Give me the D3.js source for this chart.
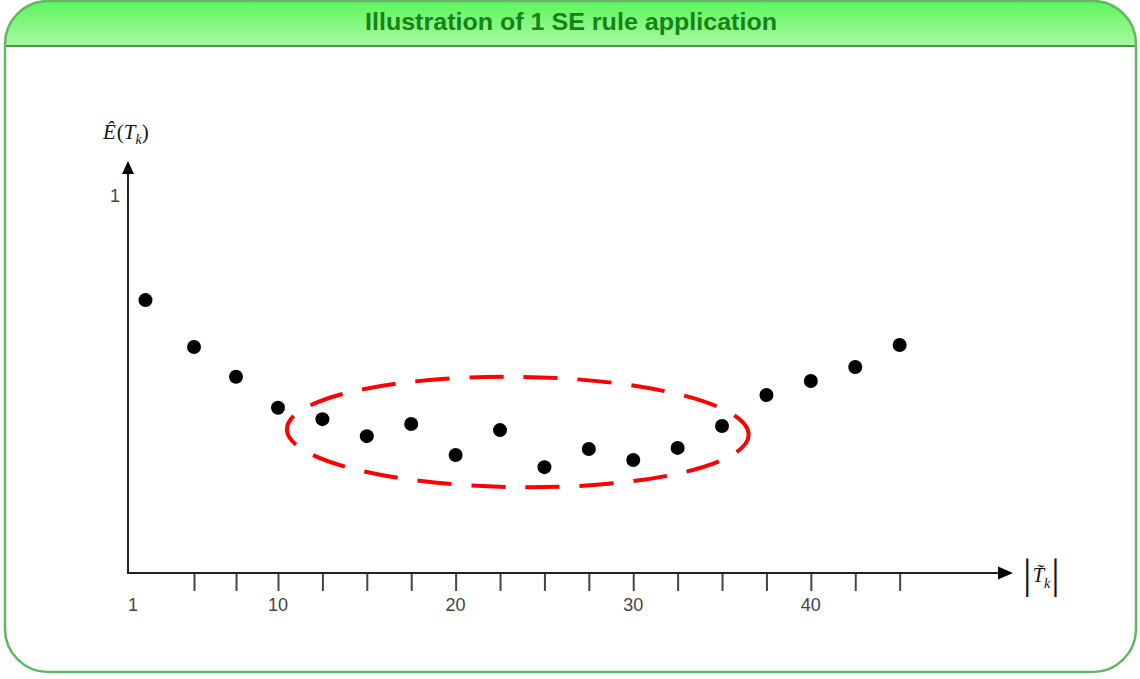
<!DOCTYPE html>
<html>
<head>
<meta charset="utf-8">
<script src="https://cdn.jsdelivr.net/npm/d3@7"></script>
<style>
  html, body { margin: 0; padding: 0; background: #fff; }
  svg { display: block; }
</style>
</head>
<body>
<div id="chart"></div>
<script>
// data
const title = "Illustration of 1 SE rule application";
const treeSizes = [2.5, 5, 7.5, 10, 12.5, 15, 17.5, 20, 22.5, 25, 27.5, 30, 32.5, 35, 37.5, 40, 42.5, 45];
const errors = [0.722, 0.598, 0.519, 0.437, 0.407, 0.362, 0.394, 0.312, 0.378, 0.280, 0.328, 0.299, 0.331, 0.389, 0.471, 0.508, 0.545, 0.603];
const tickValues = [5, 7.5, 10, 12.5, 15, 17.5, 20, 22.5, 25, 27.5, 30, 32.5, 35, 37.5, 40, 42.5, 45];
const tickLabels = [10, 20, 30, 40];
const yTickLabels = [1];
// the 1 SE region (data coords)
const region = { cx: 23.5, cy: 0.373, halfWidth: 13, halfHeight: 0.146 };

const W = 1140, H = 679;
const svg = d3.select("#chart").append("svg")
    .attr("width", W)
    .attr("height", H);

const defs = svg.append("defs");
const grad = defs.append("linearGradient")
    .attr("id", "titleGrad")
    .attr("x1", 0).attr("y1", 0).attr("x2", 0).attr("y2", 1);
grad.append("stop").attr("offset", "0%").attr("stop-color", "#5af55a");
grad.append("stop").attr("offset", "100%").attr("stop-color", "#a9f9a3");

defs.append("clipPath").attr("id", "frameClip")
  .append("rect")
    .attr("x", 5).attr("y", 1).attr("width", 1131).attr("height", 671)
    .attr("rx", 43).attr("ry", 43);

// frame + title bar
svg.append("rect")
    .attr("x", 5).attr("y", 1).attr("width", 1131).attr("height", 671)
    .attr("rx", 43).attr("ry", 43)
    .attr("fill", "#fff");

svg.append("rect")
    .attr("clip-path", "url(#frameClip)")
    .attr("x", 0).attr("y", 0).attr("width", W).attr("height", 46)
    .attr("fill", "url(#titleGrad)");

svg.append("line")
    .attr("x1", 5).attr("x2", 1136).attr("y1", 46).attr("y2", 46)
    .attr("stroke", "#3f9f3f").attr("stroke-width", 2);

svg.append("rect")
    .attr("x", 5).attr("y", 1).attr("width", 1131).attr("height", 671)
    .attr("rx", 43).attr("ry", 43)
    .attr("fill", "none")
    .attr("stroke", "#62b862").attr("stroke-width", 2.5);

svg.append("text")
    .attr("x", 571).attr("y", 30)
    .attr("text-anchor", "middle")
    .attr("font-family", "'Liberation Sans Narrow', 'Liberation Sans', Arial, sans-serif")
    .attr("font-weight", "bold")
    .attr("font-size", 23)
    .attr("fill", "#178317")
    .attr("textLength", 412)
    .attr("lengthAdjust", "spacingAndGlyphs")
    .text(title);

// scales (the original spacing is a little wider below 10)
const x = d3.scaleLinear().domain([1.6, 5, 10, 50.65]).range([128, 194, 278, 1000]);
const y = d3.scaleLinear().domain([0, 1]).range([573, 195]);

const g = svg.append("g");

// ticks
const xAxis = d3.axisBottom(x)
    .tickValues(tickValues)
    .tickSize(18)
    .tickFormat("");
const axG = g.append("g")
    .attr("transform", `translate(0,${y(0)})`)
    .call(xAxis);
axG.select(".domain").remove();
axG.selectAll(".tick line").attr("stroke", "#444").attr("stroke-width", 2);

// axis lines with arrows
const x0 = x.range()[0], y0 = y(0);
g.append("line")
    .attr("x1", x0).attr("y1", y0).attr("x2", 999).attr("y2", y0)
    .attr("stroke", "#222").attr("stroke-width", 2);
g.append("path")
    .attr("d", `M1013,${y0} L998,${y0 - 6.5} L998,${y0 + 6.5} Z`)
    .attr("fill", "#000");
g.append("line")
    .attr("x1", x0).attr("y1", y0 + 1).attr("x2", x0).attr("y2", 172)
    .attr("stroke", "#222").attr("stroke-width", 2);
g.append("path")
    .attr("d", `M${x0},161 L${x0 - 6},174 L${x0 + 6},174 Z`)
    .attr("fill", "#000");

// tick labels
const labelFont = "'Liberation Sans', Arial, sans-serif";
g.append("text")
    .attr("x", x0 + 5).attr("y", 611)
    .attr("text-anchor", "middle")
    .attr("font-family", labelFont).attr("font-size", 18).attr("fill", "#444")
    .text("1");
g.selectAll(".xlab")
    .data(tickLabels)
    .join("text")
    .attr("class", "xlab")
    .attr("x", d => x(d))
    .attr("y", 611)
    .attr("text-anchor", "middle")
    .attr("font-family", labelFont).attr("font-size", 18).attr("fill", "#444")
    .text(d => d);
g.selectAll(".ylab")
    .data(yTickLabels)
    .join("text")
    .attr("class", "ylab")
    .attr("x", 120)
    .attr("y", d => y(d) + 7)
    .attr("text-anchor", "end")
    .attr("font-family", labelFont).attr("font-size", 18).attr("fill", "#444")
    .text(d => d);

// axis titles
const mathFont = "'Liberation Serif', 'DejaVu Serif', serif";
const yt = g.append("text")
    .attr("x", 103).attr("y", 139)
    .attr("font-family", mathFont).attr("font-size", 21).attr("fill", "#111");
yt.append("tspan").attr("font-style", "italic").text("\u00CA");
yt.append("tspan").attr("dx", 1).text("(");
yt.append("tspan").attr("font-style", "italic").text("T");
yt.append("tspan").attr("font-style", "italic").attr("font-size", 14).attr("dy", 5).text("k");
yt.append("tspan").attr("dy", -5).text(")");

const xt = g.append("text")
    .attr("x", 1023).attr("y", 584)
    .attr("font-family", mathFont).attr("font-size", 21).attr("fill", "#111");
xt.append("tspan").attr("font-size", 42).attr("dy", 4).text("|");
xt.append("tspan").attr("font-style", "italic").attr("dy", -6).attr("dx", 1).text("T\u0303");
xt.append("tspan").attr("font-style", "italic").attr("font-size", 14).attr("dy", 6).text("k");
xt.append("tspan").attr("font-size", 42).attr("dy", 0).attr("dx", 1).text("|");

// points
g.selectAll(".pt")
    .data(treeSizes.map((d, i) => ({ size: d, err: errors[i] })))
    .join("circle")
    .attr("class", "pt")
    .attr("cx", d => x(d.size))
    .attr("cy", d => y(d.err))
    .attr("r", 7)
    .attr("fill", "#000");

// 1 SE ellipse
const ecx = x(region.cx), ecy = y(region.cy);
g.append("ellipse")
    .attr("cx", ecx).attr("cy", ecy)
    .attr("rx", x(region.cx + region.halfWidth) - ecx)
    .attr("ry", y(region.cy - region.halfHeight) - ecy)
    .attr("transform", `rotate(0.7,${ecx},${ecy})`)
    .attr("fill", "none")
    .attr("stroke", "#f00")
    .attr("stroke-width", 4)
    .attr("stroke-dasharray", "34 20")
    .attr("stroke-dashoffset", 12);
</script>
</body>
</html>
